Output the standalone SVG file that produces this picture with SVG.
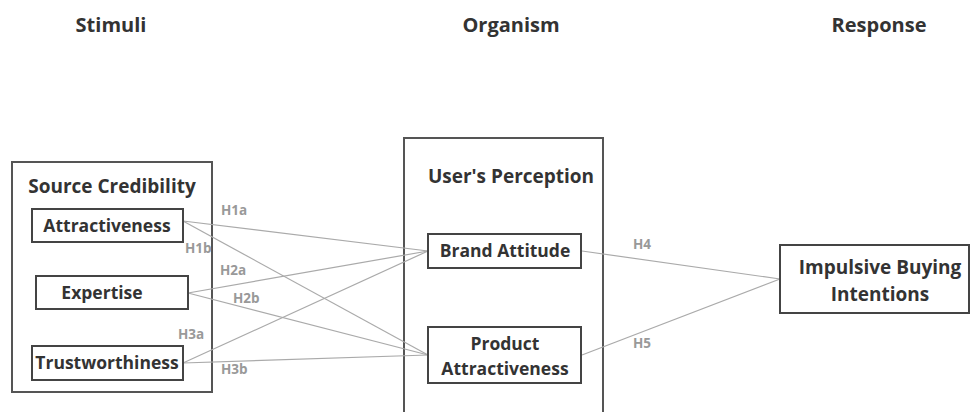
<svg xmlns="http://www.w3.org/2000/svg" width="972" height="412" viewBox="0 0 972 412">
<style>
.hdr{font-family:"Open Sans","Liberation Sans",sans-serif;font-weight:bold;font-size:20px;fill:#333;text-anchor:middle}
.ttl{font-family:"Open Sans","Liberation Sans",sans-serif;font-weight:bold;font-size:19px;fill:#333;text-anchor:middle}
.nt{font-family:"Open Sans","Liberation Sans",sans-serif;font-weight:bold;font-size:17.5px;fill:#333;text-anchor:middle}
.box{fill:#fff;stroke:#444;stroke-width:2}
.frame{fill:none;stroke:#555;stroke-width:2}
.ln{stroke:#aaa;stroke-width:1.2;fill:none}
.lbl{font-family:"Open Sans","Liberation Sans",sans-serif;font-weight:bold;font-size:13.5px;fill:#999}
</style>
<rect width="972" height="412" fill="#fff"/>
<g id="headers">
<text class="hdr" x="111" y="32">Stimuli</text>
<text class="hdr" x="511" y="32">Organism</text>
<text class="hdr" x="879" y="32">Response</text>
</g>
<g id="source-credibility">
<rect class="frame" x="12" y="162" width="200" height="230"/>
<text class="ttl" x="112" y="193">Source Credibility</text>
</g>
<g id="users-perception">
<path class="frame" d="M404,412 V138 H603 V412"/>
<text class="ttl" x="511" y="183">User's Perception</text>
</g>
<g id="connectors">
<line class="ln" x1="183" y1="221" x2="428" y2="251"/>
<line class="ln" x1="183" y1="221" x2="428" y2="355"/>
<line class="ln" x1="188" y1="293" x2="428" y2="251"/>
<line class="ln" x1="188" y1="293" x2="428" y2="355"/>
<line class="ln" x1="183" y1="363" x2="428" y2="251"/>
<line class="ln" x1="183" y1="363" x2="428" y2="355"/>
<line class="ln" x1="582" y1="251" x2="780" y2="279"/>
<line class="ln" x1="582" y1="355" x2="780" y2="279"/>
<text class="lbl" x="221" y="215">H1a</text>
<text class="lbl" x="185" y="253">H1b</text>
<text class="lbl" x="220" y="275">H2a</text>
<text class="lbl" x="233" y="303">H2b</text>
<text class="lbl" x="178" y="339">H3a</text>
<text class="lbl" x="221" y="374">H3b</text>
<text class="lbl" x="633" y="249">H4</text>
<text class="lbl" x="633" y="348">H5</text>
</g>
<g id="attractiveness">
<rect class="box" x="32" y="209" width="151" height="33"/>
<text class="nt" x="107" y="232">Attractiveness</text>
</g>
<g id="expertise">
<rect class="box" x="36" y="276" width="152" height="33"/>
<text class="nt" x="102" y="299">Expertise</text>
</g>
<g id="trustworthiness">
<rect class="box" x="32" y="346" width="151" height="34"/>
<text class="nt" x="107" y="369">Trustworthiness</text>
</g>
<g id="brand-attitude">
<rect class="box" x="428" y="234" width="153" height="34"/>
<text class="nt" x="505" y="257">Brand Attitude</text>
</g>
<g id="product-attractiveness">
<rect class="box" x="428" y="327" width="153" height="56"/>
<text class="nt" x="505" y="350">Product</text>
<text class="nt" x="505" y="375">Attractiveness</text>
</g>
<g id="impulsive-buying">
<rect class="box" x="780" y="245" width="189" height="68"/>
<text class="ttl" x="880" y="274">Impulsive Buying</text>
<text class="ttl" x="880" y="301">Intentions</text>
</g>
</svg>
